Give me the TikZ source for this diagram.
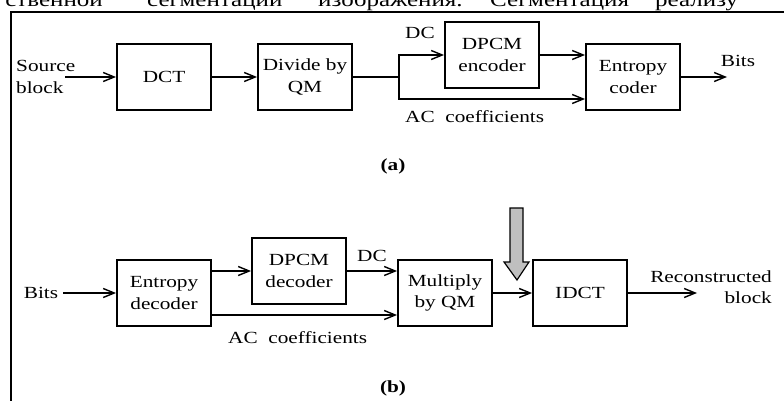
\documentclass[tikz,border=0pt]{standalone}
\usepackage{fontspec}
\setmainfont{Liberation Serif}[FakeStretch=1.25]
\usetikzlibrary{arrows.meta}
\newcommand\dfont{\fontsize{17}{21.5}\selectfont}
\newcommand\pfont{\fontsize{20}{24}\selectfont}
\begin{document}
\begin{tikzpicture}[x=1pt,y=-1pt,
  blk/.style={draw,line width=1.9pt,minimum width=94pt,minimum height=66pt,inner sep=0pt,align=center,font=\dfont},
  lbl/.style={inner sep=0pt,font=\dfont},
  ptxt/.style={inner sep=0pt,font=\pfont},
  conn/.style={line width=1.5pt,-{Straight Barb[length=11pt,width=9pt,line width=1.4pt]}},
  ln/.style={line width=1.5pt}]
\useasboundingbox (0,0) rectangle (784,401);
% cropped page text
\node[ptxt,anchor=base east] (w1) at (103,7) {ственной};
\node[ptxt,anchor=base west] (w2) at (147,7) {сегментации};
\node[ptxt,anchor=base west] (w3) at (318,7) {изображения.};
\node[ptxt,anchor=base west] (w4) at (490,7) {Сегментация};
\node[ptxt,anchor=base west] (w5) at (655,7) {реализу};
% frame
\draw[line width=2pt] (11,410) -- (11,12) -- (795,12);
% (a)
\node[lbl,align=left,anchor=west] (src) at (16,77) {Source\\block};
\coordinate (srcin) at (65,77);
\node[blk] (dct) at (164,77) {DCT};
\node[blk] (div) at (305,77) {Divide by\\QM};
\node[blk] (enc) at (492,55) {DPCM\\encoder};
\node[blk] (ent) at (633,77) {Entropy\\coder};
\coordinate (j1) at (399,77);
\coordinate (aca) at ([yshift=-22pt]ent.west);
\coordinate (bitsout) at (727,77);
\draw[conn] (srcin) -- (dct);
\draw[conn] (dct) -- (div);
\draw[ln] (div) -- (j1);
\draw[conn] (j1) |- (enc.west);
\draw[conn] (j1) |- (aca);
\draw[conn] (enc.east) -- (ent.west |- enc.east);
\draw[conn] (ent) -- (bitsout);
\node[lbl] (bits1) at (738,61) {Bits};
\node[lbl] (dc1) at (420,33) {DC};
\node[lbl,anchor=west] (acl1) at (405,117) {AC\ \ coefficients};
\node[lbl,font=\dfont\bfseries] (capa) at (393,166) {(a)};
% (b)
\node[lbl] (bits2) at (41,293) {Bits};
\coordinate (bitsin) at (63,293);
\node[blk] (edec) at (164,293) {Entropy\\decoder};
\node[blk] (ddec) at (299,271) {DPCM\\decoder};
\node[blk] (mul) at (445,293) {Multiply\\by QM};
\node[blk] (idct) at (580,293) {IDCT};
\coordinate (acb) at ([yshift=-22pt]edec.east);
\coordinate (recout) at (697,293);
\draw[conn] (bitsin) -- (edec);
\draw[conn] (edec.east |- ddec.west) -- (ddec.west);
\draw[conn] (ddec.east) -- (mul.west |- ddec.east);
\draw[conn] (acb) -- (acb -| mul.west);
\draw[conn] (mul) -- (idct);
\draw[conn] (idct) -- (recout);
\node[lbl,align=right,anchor=east] (rec) at (772,287) {Reconstructed\\block};
\node[lbl] (dc2) at (372,256) {DC};
\node[lbl,anchor=west] (acl2) at (228,338) {AC\ \ coefficients};
\node[lbl,font=\dfont\bfseries] (capb) at (393,388) {(b)};
% gray arrow
\draw[line width=1.2pt,fill=gray!50,line join=miter] (510,208) -- (523,208) -- (523,262) -- (529,262) -- (517,280) -- (504,262) -- (510,262) -- cycle;
\end{tikzpicture}
\end{document}
